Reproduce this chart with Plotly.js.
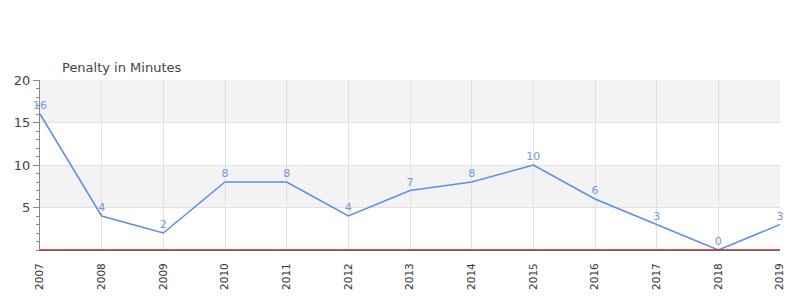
<!DOCTYPE html>
<html><head><meta charset="utf-8">
<script src="https://cdn.plot.ly/plotly-3.0.1.min.js"></script>
<style>html,body{margin:0;padding:0;background:#fff}#chart{width:800px;height:300px}</style>
</head><body><div id="chart"></div>
<script>
var years = [2007,2008,2009,2010,2011,2012,2013,2014,2015,2016,2017,2018,2019];
var penalty = [16,4,2,8,8,4,7,8,10,6,3,0,3];
var yTicks = [5,10,15,20];
var bands = [[15,20],[5,10]];

var trace = {
  x: years, y: penalty, type: 'scatter', mode: 'lines+markers+text',
  text: penalty.map(String), textposition: 'top center',
  textfont: {family: 'DejaVu Sans, sans-serif', size: 11, color: '#6f9ae8'},
  line: {color: '#5b8def', width: 1.5},
  marker: {size: 2, color: 'rgba(0,0,0,0)'},
  cliponaxis: false, hoverinfo: 'none'
};
var shapes = bands.map(function(b){return {type:'rect', xref:'paper', yref:'y', x0:0, x1:1, y0:b[0], y1:b[1], fillcolor:'#f3f3f3', line:{width:0}, layer:'below'};});
shapes.push({type:'line', xref:'paper', yref:'y', x0:0, x1:1, y0:0, y1:0, line:{color:'#e8120c', width:1.5}, layer:'above'});
var layout = {
  width: 800, height: 300,
  margin: {l: 40, r: 20, t: 80, b: 50},
  paper_bgcolor: '#fff', plot_bgcolor: '#fff',
  showlegend: false,
  font: {family: 'DejaVu Sans, sans-serif', color: '#444'},
  title: {text: 'Penalty in Minutes', x: 62/800, xanchor: 'left', xref: 'container', y: 1-67/300, yanchor: 'middle', yref: 'container', font: {size: 13, color: '#444'}},
  shapes: shapes,
  xaxis: {range: [2007, 2019], tickvals: years, ticktext: years.map(String), tickangle: -90,
    tickfont: {size: 10.5, color: '#333'}, showgrid: true, gridcolor: '#e2e2e2', zeroline: false,
    showline: true, linecolor: '#666', linewidth: 1, ticks: 'outside', ticklen: 8, tickcolor: 'rgba(0,0,0,0)', fixedrange: true},
  yaxis: {range: [0, 20], tickvals: yTicks, ticktext: yTicks.map(String), tickfont: {size: 13, color: '#444'},
    showgrid: true, gridcolor: '#e2e2e2', zeroline: false,
    showline: true, linecolor: '#888', linewidth: 1, ticks: 'outside', ticklen: 6, tickcolor: '#888',
    minor: {dtick: 1, ticks: 'outside', ticklen: 3, tickcolor: '#888', showgrid: false}, fixedrange: true}
};
Plotly.newPlot('chart', [trace], layout, {displayModeBar: false, staticPlot: true});
</script></body></html>
